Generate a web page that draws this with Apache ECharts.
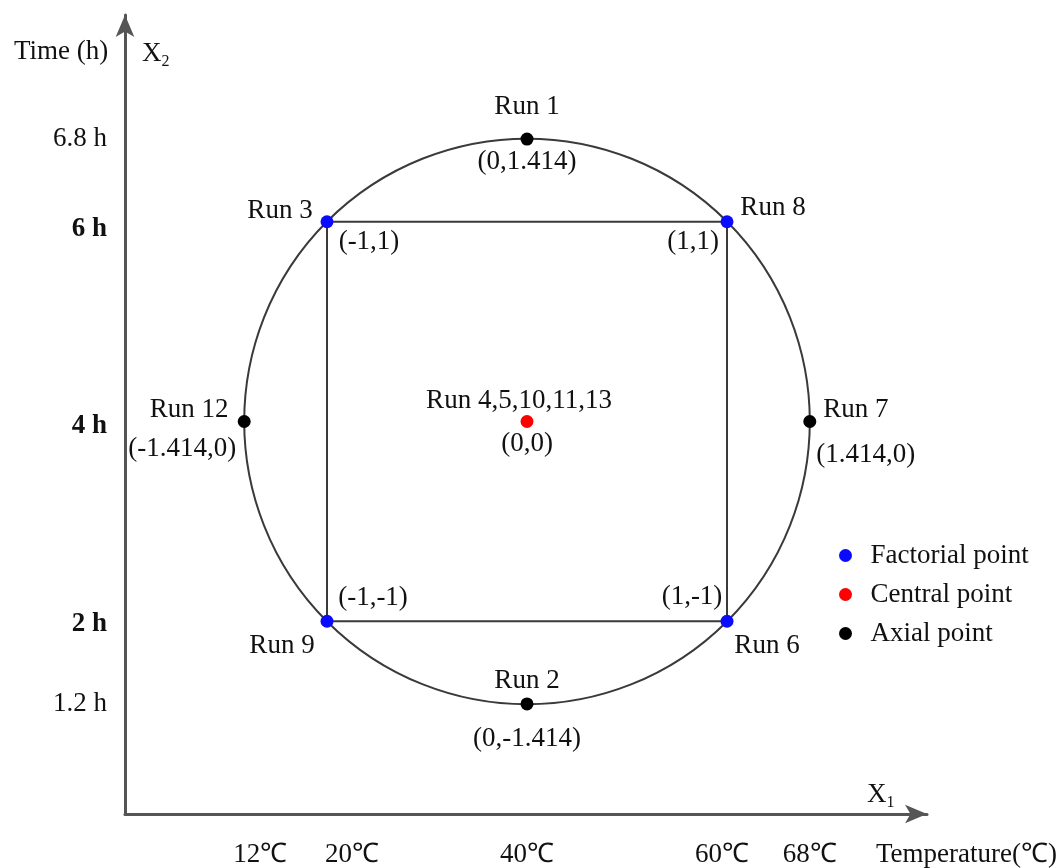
<!DOCTYPE html>
<html>
<head>
<meta charset="utf-8">
<script src="https://cdn.jsdelivr.net/npm/echarts@6/dist/echarts.min.js"></script>
<style>
html, body { margin: 0; padding: 0; background: #fff; }
#chart { width: 1062px; height: 868px; }
</style>
</head>
<body>
<div id="chart"></div>
<script>
// Coded factor levels and their real-unit tick labels
const codedTicks = [-1.414, -1, 0, 1, 1.414];
const temperatureLabels = ['12℃', '20℃', '40℃', '60℃', '68℃'];
const timeLabels = ['1.2 h', '2 h', '4 h', '6 h', '6.8 h'];

// Central composite design runs (coded X1, X2)
const factorialRuns = ['Run 3', 'Run 8', 'Run 6', 'Run 9'];
const factorialPoints = [[-1, 1], [1, 1], [1, -1], [-1, -1]];
const centralRuns = ['Run 4,5,10,11,13'];
const centralPoints = [[0, 0]];
const axialRuns = ['Run 1', 'Run 7', 'Run 2', 'Run 12'];
const axialPoints = [[0, 1.414], [1.414, 0], [0, -1.414], [-1.414, 0]];
const axialDistance = 1.414;

// Label placement (pixel offsets of the text centre from the point centre)
const runLabelOffset = {
  'Run 1': [0, -32], 'Run 2': [0, -23], 'Run 7': [46, -12], 'Run 12': [-55, -12],
  'Run 3': [-47, -11], 'Run 8': [46, -14], 'Run 6': [40, 25], 'Run 9': [-45, 25],
  'Run 4,5,10,11,13': [-8, -21]
};
const coordLabelOffset = {
  'Run 1': [0, 23], 'Run 2': [0, 35], 'Run 7': [56, 33], 'Run 12': [-62, 27],
  'Run 3': [42, 20], 'Run 8': [-34, 20], 'Run 6': [-35, -24], 'Run 9': [46, -23],
  'Run 4,5,10,11,13': [0, 22]
};

const FONT = "'Liberation Serif', 'Times New Roman', serif";
const FS = 27;
const INK = '#111';

const chart = echarts.init(document.getElementById('chart'), null, { renderer: 'canvas' });

const plainLabel = {
  show: true, position: 'inside',
  fontFamily: FONT, fontSize: FS, color: INK,
  textBorderWidth: 0, textBorderColor: 'transparent', opacity: 1
};

function runSeries(name, color, runs, pts) {
  return {
    name: name,
    type: 'scatter',
    symbol: 'circle',
    symbolSize: 13,
    z: 5,
    itemStyle: { color: color, opacity: 1 },
    label: Object.assign({}, plainLabel, { formatter: '{b}' }),
    emphasis: { disabled: true },
    data: pts.map((p, i) => ({
      name: runs[i], value: p,
      label: { offset: runLabelOffset[runs[i]] }
    }))
  };
}

function coordSeries(runs, pts) {
  return {
    type: 'scatter',
    symbolSize: 1,
    z: 4,
    silent: true,
    itemStyle: { color: 'rgba(0,0,0,0)' },
    label: Object.assign({}, plainLabel, {
      formatter: p => '(' + p.value[0] + ',' + p.value[1] + ')'
    }),
    data: pts.map((p, i) => ({
      name: runs[i], value: p,
      label: { offset: coordLabelOffset[runs[i]] }
    }))
  };
}

const axisLineStyle = { color: '#555', width: 3 };

// Per-label text styles for the axis tick labels (small nudges and weights)
const tempStyleKey = ['t0', 't1', 'n', 't3', 'n'];
const timeStyleKey = ['n', 'b2', 'b4', 'b6', 'n'];
const tickRich = {
  n: { fontFamily: FONT, fontSize: FS, color: INK },
  t0: { fontFamily: FONT, fontSize: FS, color: INK, padding: [0, 0, 0, 32] },
  t1: { fontFamily: FONT, fontSize: FS, color: INK, padding: [0, 0, 0, 50] },
  t3: { fontFamily: FONT, fontSize: FS, color: INK, padding: [0, 10, 0, 0] },
  b2: { fontFamily: FONT, fontSize: FS, color: INK, fontWeight: 'bold', padding: [6, 0, 0, 0] },
  b4: { fontFamily: FONT, fontSize: FS, color: INK, fontWeight: 'bold', padding: [10, 0, 0, 0] },
  b6: { fontFamily: FONT, fontSize: FS, color: INK, fontWeight: 'bold', padding: [14, 0, 0, 0] }
};

chart.setOption({
  backgroundColor: '#fff',
  animation: false,
  grid: { left: 125, right: 135, top: 15, bottom: 53 },
  xAxis: {
    type: 'value',
    min: -2.01, max: 2.0,
    axisLine: { show: true, onZero: false, symbol: ['none', 'arrow'], symbolSize: [14, 22], lineStyle: axisLineStyle },
    axisTick: { show: false },
    splitLine: { show: false },
    axisLabel: {
      customValues: codedTicks,
      formatter: v => {
        const i = codedTicks.indexOf(v);
        return '{' + tempStyleKey[i] + '|' + temperatureLabels[i] + '}';
      },
      margin: 27,
      fontFamily: FONT, fontSize: FS, color: INK,
      rich: tickRich
    }
  },
  yAxis: {
    type: 'value',
    min: -1.965, max: 2.035,
    axisLine: { show: true, onZero: false, symbol: ['none', 'arrow'], symbolSize: [14, 22], lineStyle: axisLineStyle },
    axisTick: { show: false },
    splitLine: { show: false },
    axisLabel: {
      customValues: codedTicks,
      formatter: v => {
        const i = codedTicks.indexOf(v);
        return '{' + timeStyleKey[i] + '|' + timeLabels[i] + '}';
      },
      margin: 18,
      fontFamily: FONT, fontSize: FS, color: INK,
      rich: tickRich
    }
  },
  legend: {
    orient: 'vertical',
    left: 834, top: 537,
    itemWidth: 40, itemHeight: 13, itemGap: 12,
    icon: 'circle',
    data: ['Factorial point', 'Central point', 'Axial point'],
    textStyle: { fontFamily: FONT, fontSize: FS, color: INK }
  },
  graphic: [
    { type: 'text', left: 14, top: 38, style: { text: 'Time (h)', font: FS + 'px ' + FONT, fill: INK } },
    { type: 'text', left: 142, top: 40,
      style: { text: 'X{s|2}', font: FS + 'px ' + FONT, fill: INK,
        rich: { s: { fontSize: 16, fontFamily: FONT, verticalAlign: 'bottom', padding: [16, 0, 0, 0] } } } },
    { type: 'text', left: 867, top: 781,
      style: { text: 'X{s|1}', font: FS + 'px ' + FONT, fill: INK,
        rich: { s: { fontSize: 16, fontFamily: FONT, verticalAlign: 'bottom', padding: [16, 0, 0, 0] } } } },
    { type: 'text', left: 876, top: 841, style: { text: 'Temperature(℃)', font: FS + 'px ' + FONT, fill: INK } }
  ],
  series: [
    {
      // design-space circle through the axial points
      type: 'custom',
      silent: true,
      z: 1,
      data: [[0, 0, axialDistance]],
      renderItem: (params, api) => {
        const c = api.coord([api.value(0), api.value(1)]);
        const r = api.size([api.value(2), 0])[0];
        return {
          type: 'circle',
          shape: { cx: c[0], cy: c[1], r: r },
          style: { fill: 'none', stroke: '#3a3a3a', lineWidth: 2 }
        };
      }
    },
    {
      // factorial square
      type: 'line',
      silent: true,
      z: 2,
      symbol: 'none',
      lineStyle: { color: '#3a3a3a', width: 2 },
      data: factorialPoints.concat([factorialPoints[0]])
    },
    runSeries('Factorial point', '#0a0aff', factorialRuns, factorialPoints),
    runSeries('Central point', '#ff0000', centralRuns, centralPoints),
    runSeries('Axial point', '#000000', axialRuns, axialPoints),
    coordSeries(factorialRuns, factorialPoints),
    coordSeries(centralRuns, centralPoints),
    coordSeries(axialRuns, axialPoints)
  ]
});
</script>
</body>
</html>
